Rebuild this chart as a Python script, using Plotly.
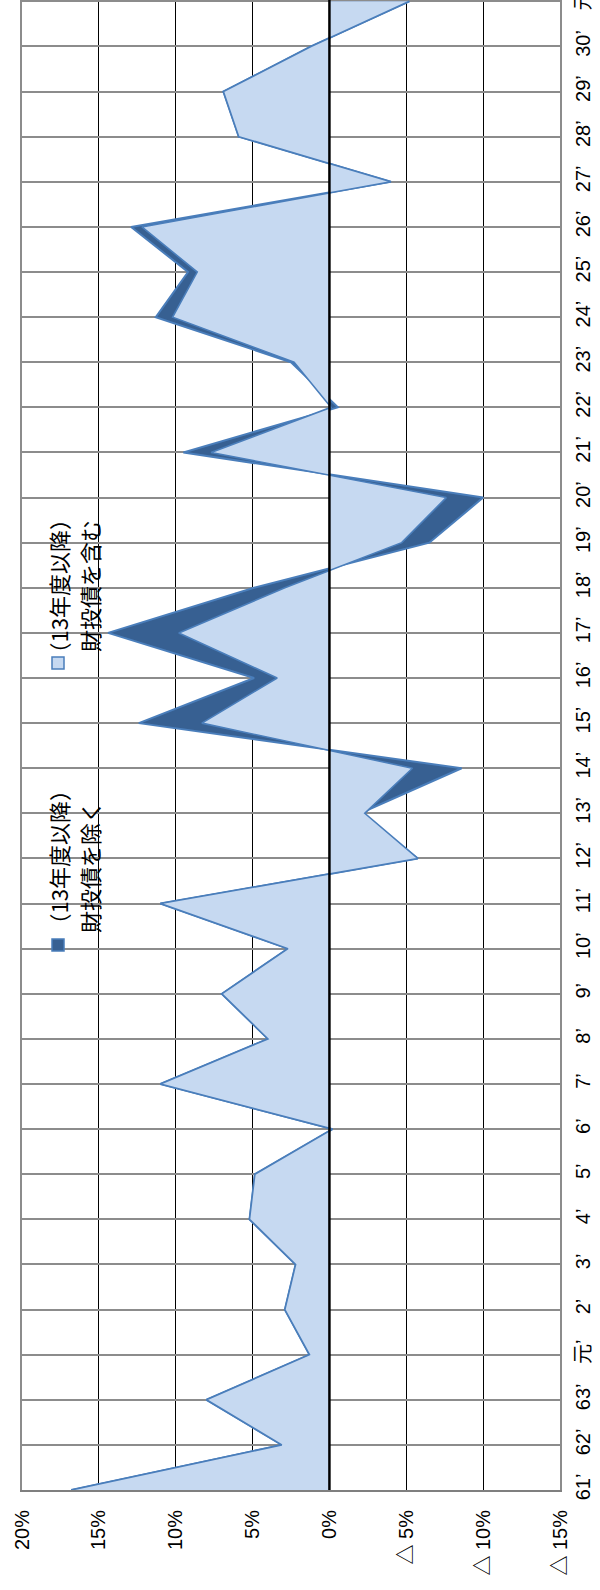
import plotly.graph_objects as go

# ---- data ----
years = ["61’", "62’", "63’", "元’", "2’", "3’", "4’", "5’", "6’", "7’", "8’", "9’",
         "10’", "11’", "12’", "13’", "14’", "15’", "16’", "17’", "18’", "19’", "20’",
         "21’", "22’", "23’", "24’", "25’", "26’", "27’", "28’", "29’", "30’", "元’"]

# (13年度以降) 財投債を除く
excl_filp = [16.8, 3.1, 8.0, 1.3, 2.9, 2.2, 5.2, 4.85, -0.2, 11.0, 4.0, 7.0,
             2.7, 11.0, -5.75, -2.0, -8.6, 12.4, 4.9, 14.4, 4.9, -6.5, -10.0,
             9.5, -0.55, 2.5, 11.3, 9.2, 12.9, -4.0, 5.9, 6.9, 1.2, -5.2]

# (13年度以降) 財投債を含む
incl_filp = [16.8, 3.1, 8.0, 1.3, 2.9, 2.2, 5.2, 4.85, -0.2, 11.0, 4.0, 7.0,
             2.7, 11.0, -5.75, -2.3, -5.4, 8.3, 3.4, 9.8, 2.9, -4.7, -7.6,
             7.7, -0.1, 2.3, 10.2, 8.6, 12.2, -4.0, 5.9, 6.9, 1.2, -5.2]

x_tickvals = [20, 15, 10, 5, 0, -5, -10, -15]
x_ticktext = ["20%", "15%", "10%", "5%", "0%", "△ 5%", "△ 10%", "△ 15%"]

legend_excl = ["（13年度以降）", "財投債を除く"]
legend_incl = ["（13年度以降）", "財投債を含む"]

# ---- styling ----
DARK = "#376092"
LIGHT = "#C6D9F1"
EDGE = "#4A7EBB"
FONT = "Liberation Sans, Arial, Noto Sans CJK JP, sans-serif"
CJK = "Noto Sans CJK JP, sans-serif"

W, H = 600, 1590
ML, MR, MT, MB = 22, 40, 0, 100
PW, PH = W - ML - MR, H - MT - MB

ypos = list(range(len(years)))

fig = go.Figure()
fig.add_trace(go.Scatter(
    x=excl_filp, y=ypos, mode="lines", fill="tozerox",
    fillcolor=DARK, line=dict(color=EDGE, width=2),
    name="（13年度以降）財投債を除く", showlegend=False, hoverinfo="skip"))
fig.add_trace(go.Scatter(
    x=incl_filp, y=ypos, mode="lines", fill="tozerox",
    fillcolor=LIGHT, line=dict(color=EDGE, width=1.6),
    name="（13年度以降）財投債を含む", showlegend=False, hoverinfo="skip"))


def px2paper(px, py):
    return (px - ML) / PW, (H - MB - py) / PH


shapes = []
annotations = []
# zero line on top of fills
shapes.append(dict(type="line", xref="x", yref="paper", x0=0, x1=0, y0=0, y1=1,
                   line=dict(color="black", width=2.5), layer="above"))

# legend (rotated, as in the reference): square y, line-1 bottom, line-2 bottom
for (sq_y, y1_txt, y2_txt, lines, fill) in [(945, 937, 934, legend_excl, DARK),
                                             (663, 666, 653, legend_incl, LIGHT)]:
    x0, y0 = px2paper(52, sq_y + 6)
    x1, y1 = px2paper(64, sq_y - 6)
    shapes.append(dict(type="rect", xref="paper", yref="paper", x0=x0, x1=x1,
                       y0=y0, y1=y1, fillcolor=fill,
                       line=dict(color=EDGE, width=1.5), layer="above"))
    for cx, cy, txt in zip([57.5, 89], [y1_txt, y2_txt], lines):
        ax, ay = px2paper(cx, cy)
        annotations.append(dict(text=txt, xref="paper", yref="paper", x=ax, y=ay,
                                xanchor="center", yanchor="bottom", textangle=-90,
                                showarrow=False, borderpad=0,
                                font=dict(family=CJK, size=22, color="black")))

fig.update_layout(
    width=W, height=H,
    margin=dict(l=ML, r=MR, t=MT, b=MB, pad=0, autoexpand=False),
    paper_bgcolor="white", plot_bgcolor="white",
    font=dict(family=FONT, size=20, color="black"),
    shapes=shapes, annotations=annotations,
    xaxis=dict(range=[20, -15], tickvals=x_tickvals, ticktext=x_ticktext,
               tickangle=-90, showgrid=True, gridcolor="black", gridwidth=1,
               zeroline=False, showline=True, linecolor="#7f7f7f", linewidth=2,
               mirror=True, ticks="", ticklabelstandoff=10, automargin=False,
               tickfont=dict(family=FONT, size=20, color="black")),
    yaxis=dict(range=[0, len(years) - 1 + 0.03], tickvals=ypos, ticktext=years,
               side="right", tickangle=-90, showgrid=True, gridcolor="#8c8c8c",
               gridwidth=2, zeroline=False, showline=True, linecolor="#8c8c8c",
               linewidth=2, mirror=True, ticks="", ticklabelstandoff=4,
               ticklabeloverflow="allow", automargin=False,
               tickfont=dict(family=FONT, size=20, color="black")),
)

fig.write_html("out.html", config={"displayModeBar": False},
               post_script="document.body.style.margin='0';document.body.style.overflow='hidden';")
